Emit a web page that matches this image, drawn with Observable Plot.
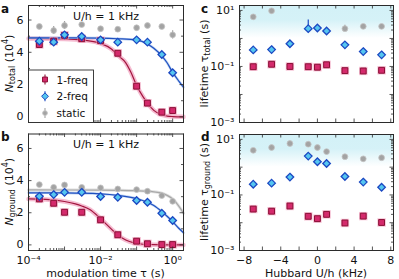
<!DOCTYPE html>
<html>
<head>
<meta charset="utf-8">
<script src="https://cdn.jsdelivr.net/npm/d3@7"></script>
<script src="https://cdn.jsdelivr.net/npm/@observablehq/plot@0.6"></script>
<style>
  html, body { margin: 0; padding: 0; background: #fff; }
  #chart { position: relative; width: 399px; height: 279px; overflow: hidden; background: #fff; }
  #chart > svg { position: absolute; left: 0; top: 0; }
</style>
</head>
<body>
<div id="chart"></div>
<script>
// ---------------- data ----------------
const tau = [2e-4, 5e-4, 1e-3, 3e-3, 1e-2, 3e-2, 0.1, 0.2, 0.5, 1];
const totalOneFreq = [4.48, 4.69, 5.05, 4.84, 4.72, 3.94, 1.9, 0.85, 0.29, 0.39];
const totalTwoFreq = [4.69, 4.63, 5.08, 4.98, 4.77, 4.63, 4.77, 4.63, 3.86, 2.73];
const totalStatic = [5.6, 5.35, 5.66, 5.72, 5.46, 5.43, 5.52, 5.66, 5.6, 5.08];
const totalStaticErr = [0.1, 0.25, 0.25, 0.08, 0.08, 0.08, 0.08, 0.08, 0.1, 0.25];
const groundOneFreq = [2.86, 2.59, 2.03, 2.03, 1.56, 0.63, 0.23, 0.07, 0.02, 0.02];
const groundTwoFreq = [3.02, 3.13, 3.27, 3.27, 3.01, 2.96, 2.76, 2.65, 1.97, 1.52];
const groundStatic = [3.75, 3.58, 3.73, 3.58, 3.55, 3.48, 3.44, 3.34, 3.07, 2.71];

// fitted curves
const fitTauA1 = [1e-4, 1e-3, 3e-3, 1e-2, 2e-2, 3e-2, 5e-2, 7e-2, 0.1, 0.15, 0.2, 0.3, 0.5, 0.7, 1, 2];
const fitTotalOneFreq = [4.86, 4.83, 4.77, 4.55, 4.2, 3.82, 3.35, 2.75, 1.95, 1.25, 0.85, 0.4, 0.12, 0.05, 0.02, 0.0];
const fitTauA2 = [1e-4, 1e-3, 1e-2, 3e-2, 0.1, 0.2, 0.3, 0.5, 0.7, 1, 1.5, 2];
const fitTotalTwoFreq = [4.9, 4.9, 4.88, 4.84, 4.76, 4.52, 4.25, 3.78, 3.35, 2.76, 2.2, 1.83];
const fitTauB1 = [1e-4, 3e-4, 1e-3, 2e-3, 3e-3, 5e-3, 1e-2, 2e-2, 3e-2, 5e-2, 8.5e-2, 0.15, 0.3, 2];
const fitGroundOneFreq = [2.86, 2.83, 2.7, 2.55, 2.42, 2.2, 1.63, 0.98, 0.62, 0.3, 0.12, 0.04, 0.01, 0.0];
const fitTauB2 = [1e-4, 1e-3, 1e-2, 3e-2, 0.1, 0.2, 0.3, 0.5, 0.7, 1, 1.5, 2];
const fitGroundTwoFreq = [3.24, 3.23, 3.17, 3.08, 2.88, 2.65, 2.45, 2.07, 1.78, 1.45, 1.02, 0.75];
const fitTauB3 = [1e-4, 1e-2, 0.1, 0.2, 0.3, 0.5, 0.7, 1, 1.5, 2];
const fitGroundStatic = [3.42, 3.41, 3.37, 3.34, 3.3, 3.22, 3.08, 2.86, 2.4, 1.97];

const hubbard = [-7, -5, -3, -1, 0, 1, 3, 5, 7];
const lifeTotalOneFreq = [0.098, 0.12, 0.1, 0.098, 0.094, 0.115, 0.071, 0.069, 0.073];
const lifeTotalTwoFreq = [0.39, 0.40, 0.65, 2.24, 2.36, 1.84, 0.59, 0.34, 0.26];
const lifeTotalStatic = [5.9, 9.7, null, null, null, null, 2.24, 2.7, 2.7];
const lifeTotalTwoFreqErr = [null, null, null, [1.6, 4.6], null, null, null, null, null];
const lifeTotalStaticErr = [[5.2, 6.7], null, null, null, null, null, [1.75, 2.95], null, null];
const lifeGroundOneFreq = [0.031, 0.026, 0.040, 0.017, 0.014, 0.020, 0.0098, 0.0173, 0.0102];
const lifeGroundTwoFreq = [0.244, 0.266, 0.44, 2.5, 1.56, 1.36, 0.46, 0.29, 0.19];
const lifeGroundStatic = [4.05, 5.1, 7.1, 6.7, 5.1, 3.63, 2.38, 2.0, 2.19];
const lifeGroundOneFreqErr = [null, [0.023, 0.029], null, null, null, null, [0.0082, 0.0118], null, [0.0091, 0.0114]];

const seriesNames = ["1-freq", "2-freq", "static"];
const panelLetters = ["a", "b", "c", "d"];
const tauTickLabels = [1e-4, 1e-2, 1];
const lifeTickLabels = [1e-3, 1e-1, 10];
const hubbardTickLabels = [-8, -4, 0, 4, 8];
const nTickLabels = [0, 2, 4, 6];

// ---------------- styles ----------------
const W = 399, H = 279;
const INK = "#2b2b2b";
const RED = "#d42a6c", RED_EDGE = "#8a1036", RED_HALO = "#f2a6c2", RED_LINE = "#a3163f";
const BLUE = "#55c6f0", BLUE_EDGE = "#1b48c2", BLUE_LINE = "#1f4fbf", BLUE_BAND = "#a9c6f0";
const GRAY = "#a3a3a3", GRAY_EDGE = "#c4c4c4", GRAY_LINE = "#a8a8a8", GRAY_BAND = "#d6d6d6";
const FONT = "DejaVu Sans";
const SUP = {"-": "⁻", "0": "⁰", "1": "¹", "2": "²", "3": "³", "4": "⁴", "5": "⁵", "6": "⁶", "7": "⁷", "8": "⁸", "9": "⁹"};
const pow10 = d => "10" + String(Math.round(Math.log10(d))).split("").map(c => SUP[c]).join("");
const signed = d => d < 0 ? "−" + Math.abs(d) : String(d);

const rows = (xs, ys, extra = {}) => xs.map((x, i) => ({x, y: ys[i], ...Object.fromEntries(Object.entries(extra).map(([k, v]) => [k, v[i]]))})).filter(d => d.y != null);

function logTicks(lo, hi) {
  const major = [], minor = [];
  for (let e = Math.floor(Math.log10(lo)); e <= Math.ceil(Math.log10(hi)); e++) {
    for (let k = 1; k <= 9; k++) {
      const v = k * Math.pow(10, e);
      if (v < lo * 0.999 || v > hi * 1.001) continue;
      (k === 1 ? major : minor).push(v);
    }
  }
  return {major, minor};
}

function frameTicksX(values, len, innerH) {
  return [
    Plot.tickX(values, {x: d => d, stroke: INK, strokeWidth: 0.8, insetTop: innerH - len}),
    Plot.tickX(values, {x: d => d, stroke: INK, strokeWidth: 0.8, insetBottom: innerH - len})
  ];
}
function frameTicksY(values, len, innerW) {
  return [
    Plot.tickY(values, {y: d => d, stroke: INK, strokeWidth: 0.8, insetRight: innerW - len}),
    Plot.tickY(values, {y: d => d, stroke: INK, strokeWidth: 0.8, insetLeft: innerW - len})
  ];
}

function panel(g, xs, ys, marks) {
  const innerW = g.right - g.left, innerH = g.bottom - g.top;
  return Plot.plot({
    width: W, height: H,
    marginLeft: g.left, marginRight: W - g.right, marginTop: g.top, marginBottom: H - g.bottom,
    x: xs, y: ys,
    style: {fontFamily: FONT, fontSize: "11px", background: "transparent", color: "#111", overflow: "visible"},
    marks: marks(innerW, innerH)
  });
}

function redDots(data) {
  return [
    Plot.dot(data, {x: "x", y: "y", symbol: "square", r: 4.7, fill: RED_HALO, fillOpacity: 0.75}),
    Plot.dot(data, {x: "x", y: "y", symbol: "square", r: 3.3, fill: RED, stroke: RED_EDGE, strokeWidth: 1})
  ];
}
function blueDots(data) {
  return Plot.dot(data, {x: "x", y: "y", symbol: "diamond2", r: 3.4, fill: BLUE, stroke: BLUE_EDGE, strokeWidth: 1.3});
}
function grayDots(data) {
  return Plot.dot(data, {x: "x", y: "y", symbol: "circle", r: 2.9, fill: GRAY, stroke: GRAY_EDGE, strokeWidth: 0.8});
}
function fitLine(xs, ys, color, band, bandW) {
  const d = rows(xs, ys);
  return [
    Plot.line(d, {x: "x", y: "y", curve: "monotone-x", stroke: band, strokeWidth: bandW, strokeOpacity: 0.75}),
    Plot.line(d, {x: "x", y: "y", curve: "monotone-x", stroke: color, strokeWidth: 1.2})
  ];
}

const chart = document.getElementById("chart");

// ---------------- geometry ----------------
const gA = {left: 28, right: 183, top: 5, bottom: 122};
const gB = {left: 28, right: 183, top: 133.5, bottom: 250};
const gC = {left: 239, right: 393, top: 5, bottom: 122};
const gD = {left: 239, right: 393, top: 134, bottom: 250};

const tauDomain = [1e-4, 2];
const nDomain = [-0.35, 6.9];
const hubDomain = [-8.5, 8.3];
const lifeDomain = [1e-3, 15];
const tauT = logTicks(tauDomain[0], tauDomain[1]);
const lifeT = logTicks(lifeDomain[0], lifeDomain[1]);
const hubTicks = d3.range(-8, 9, 2);

// ---------------- panels a, b ----------------
function nPanel(g, one, two, stat, statErr, fits, showX) {
  return panel(g,
    {type: "log", domain: tauDomain, axis: null},
    {domain: nDomain, axis: null},
    (iw, ih) => [
      ...fits,
      Plot.ruleX(rows(tau, stat, statErr ? {e: statErr} : {}).filter(d => d.e), {x: "x", y1: d => d.y - d.e, y2: d => d.y + d.e, stroke: GRAY, strokeWidth: 1.2}),
      grayDots(rows(tau, stat)),
      ...redDots(rows(tau, one)),
      blueDots(rows(tau, two)),
      Plot.text(["U/h = 1 kHz"], {frameAnchor: "top", lineAnchor: "middle", dy: 10.8, fontSize: 11, fill: "#111"}),
      ...frameTicksX(tauT.major, 3.5, ih), ...frameTicksX(tauT.minor, 2, ih),
      ...frameTicksY(nTickLabels, 3.5, iw), ...frameTicksY([1, 3, 5], 2, iw),
      Plot.frame({stroke: INK, strokeWidth: 1}),
      Plot.axisY(nTickLabels, {anchor: "left", tickSize: 0, tickPadding: 5, fontSize: 11, label: null}),
      ...(showX ? [Plot.axisX(tauTickLabels, {anchor: "bottom", tickSize: 0, tickPadding: 6, fontSize: 11, label: null, tickFormat: pow10})] : [])
    ]);
}

const svgA = nPanel(gA, totalOneFreq, totalTwoFreq, totalStatic, totalStaticErr, [
  ...fitLine(fitTauA1, fitTotalOneFreq, RED_LINE, RED_HALO, 4.5),
  ...fitLine(fitTauA2, fitTotalTwoFreq, BLUE_LINE, BLUE_BAND, 2.5)
], false);
const svgB = nPanel(gB, groundOneFreq, groundTwoFreq, groundStatic, null, [
  ...fitLine(fitTauB3, fitGroundStatic, GRAY_LINE, GRAY_BAND, 3),
  ...fitLine(fitTauB1, fitGroundOneFreq, RED_LINE, RED_HALO, 4.5),
  ...fitLine(fitTauB2, fitGroundTwoFreq, BLUE_LINE, BLUE_BAND, 2.5)
], true);

// ---------------- panels c, d ----------------
function lifePanel(g, one, two, stat, errs, showX, gradId) {
  const errRows = [];
  for (const [vals, err, col] of errs) {
    hubbard.forEach((u, i) => { if (err[i]) errRows.push({x: u, lo: err[i][0], hi: err[i][1], c: col}); });
  }
  return panel(g,
    {domain: hubDomain, axis: null},
    {type: "log", domain: lifeDomain, axis: null},
    (iw, ih) => [
      () => {
        const defs = d3.create("svg:defs");
        const lg = defs.append("linearGradient").attr("id", gradId).attr("x1", 0).attr("y1", 0).attr("x2", 0).attr("y2", 1);
        lg.append("stop").attr("offset", "0%").attr("stop-color", "#d3f1f7").attr("stop-opacity", 1);
        lg.append("stop").attr("offset", "45%").attr("stop-color", "#d3f1f7").attr("stop-opacity", 0.95);
        lg.append("stop").attr("offset", "100%").attr("stop-color", "#d3f1f7").attr("stop-opacity", 0);
        return defs.node();
      },
      Plot.rect([lifeDomain], {x1: hubDomain[0], x2: hubDomain[1], y1: () => 1, y2: () => lifeDomain[1], fill: `url(#${gradId})`}),
      Plot.ruleX(errRows, {x: "x", y1: "lo", y2: "hi", stroke: "c", strokeWidth: 1.2}),
      grayDots(rows(hubbard, stat)),
      ...redDots(rows(hubbard, one)),
      blueDots(rows(hubbard, two)),
      ...frameTicksX(hubTicks, 3.5, ih),
      ...frameTicksY(lifeT.major, 3.5, iw), ...frameTicksY(lifeT.minor, 2, iw),
      Plot.frame({stroke: INK, strokeWidth: 1}),
      Plot.axisY(lifeTickLabels, {anchor: "left", tickSize: 0, tickPadding: 5, fontSize: 11, label: null, tickFormat: pow10}),
      ...(showX ? [Plot.axisX(hubbardTickLabels, {anchor: "bottom", tickSize: 0, tickPadding: 6, fontSize: 11, label: null, tickFormat: signed})] : [])
    ]);
}

const svgC = lifePanel(gC, lifeTotalOneFreq, lifeTotalTwoFreq, lifeTotalStatic,
  [[lifeTotalTwoFreq, lifeTotalTwoFreqErr, BLUE_EDGE], [lifeTotalStatic, lifeTotalStaticErr, GRAY]], false, "gradC");
const svgD = lifePanel(gD, lifeGroundOneFreq, lifeGroundTwoFreq, lifeGroundStatic,
  [[lifeGroundOneFreq, lifeGroundOneFreqErr, RED_EDGE]], true, "gradD");

for (const s of [svgA, svgB, svgC, svgD]) chart.appendChild(s);

// ---------------- text: axis titles, panel letters ----------------
function yTitle(svg, x, y, parts) {
  const t = d3.select(svg).append("text")
    .attr("transform", `translate(${x},${y}) rotate(-90)`)
    .attr("text-anchor", "middle").attr("dominant-baseline", "central")
    .attr("font-family", FONT).attr("font-size", 11).attr("fill", "#111");
  for (const p of parts) {
    const ts = t.append("tspan").text(p.t);
    if (p.i) ts.attr("font-style", "italic");
    if (p.sub) ts.attr("font-size", 8).attr("dy", 2.5);
    if (p.sup) ts.attr("font-size", 8).attr("dy", -4);
    if (p.back) ts.attr("dy", p.back);
  }
}
yTitle(svgA, 9, (gA.top + gA.bottom) / 2, [{t: "N", i: true}, {t: "total", sub: true}, {t: " (10", back: -2.5}, {t: "4", sup: true}, {t: ")", back: 4}]);
yTitle(svgB, 9, (gB.top + gB.bottom) / 2, [{t: "N", i: true}, {t: "ground", sub: true}, {t: " (10", back: -2.5}, {t: "4", sup: true}, {t: ")", back: 4}]);
yTitle(svgC, 204, (gC.top + gC.bottom) / 2, [{t: "lifetime τ"}, {t: "total", sub: true}, {t: " (s)", back: -2.5}]);
yTitle(svgD, 204, (gD.top + gD.bottom) / 2, [{t: "lifetime τ"}, {t: "ground", sub: true}, {t: " (s)", back: -2.5}]);

d3.select(svgB).append("text").attr("x", (gB.left + gB.right) / 2).attr("y", 277)
  .attr("text-anchor", "middle").attr("font-family", FONT).attr("font-size", 11).attr("fill", "#111")
  .text("modulation time τ (s)");
d3.select(svgD).append("text").attr("x", (gD.left + gD.right) / 2).attr("y", 277)
  .attr("text-anchor", "middle").attr("font-family", FONT).attr("font-size", 11).attr("fill", "#111")
  .text("Hubbard U/h (kHz)");

const letterPos = [[1, 13, svgA], [1, 141, svgB], [201, 13, svgC], [201, 141, svgD]];
letterPos.forEach(([x, y, s], i) => {
  d3.select(s).append("text").attr("x", x).attr("y", y).attr("text-anchor", "start").attr("font-family", FONT)
    .attr("font-weight", "bold").attr("font-size", 12).attr("fill", "#111").text(panelLetters[i]);
});

// ---------------- legend (panel a) ----------------
const leg = d3.select(svgA).append("g").attr("font-family", FONT).attr("font-size", 10.5).attr("text-anchor", "start");
leg.append("rect").attr("x", gA.left + 0.5).attr("y", 70).attr("width", 65).attr("height", gA.bottom - 70 + 0.5)
  .attr("fill", "#fff").attr("stroke", INK).attr("stroke-width", 0.9);
const legSpec = [
  {sym: d3.symbolSquare, size: 24, fill: RED, stroke: RED_EDGE, err: RED_EDGE},
  {sym: d3.symbolDiamond2, size: 30, fill: BLUE, stroke: BLUE_EDGE, err: BLUE_EDGE},
  {sym: d3.symbolCircle, size: 18, fill: GRAY, stroke: GRAY_EDGE, err: GRAY}
];
legSpec.forEach((s, i) => {
  const cy = 79.5 + i * 16.8, cx = 45;
  leg.append("line").attr("x1", cx).attr("x2", cx).attr("y1", cy - 5).attr("y2", cy + 5).attr("stroke", s.err).attr("stroke-width", 1.1);
  leg.append("path").attr("d", d3.symbol(s.sym, s.size)()).attr("transform", `translate(${cx},${cy})`)
    .attr("fill", s.fill).attr("stroke", s.stroke).attr("stroke-width", 1);
  leg.append("text").attr("x", 56.5).attr("y", cy).attr("text-anchor", "start").attr("dominant-baseline", "central").attr("fill", "#111").text(seriesNames[i]);
});
</script>
</body>
</html>
